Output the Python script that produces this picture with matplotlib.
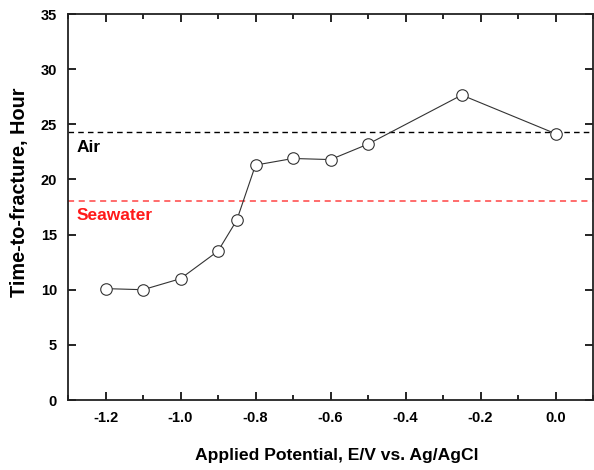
import matplotlib
matplotlib.use("Agg")
import matplotlib.pyplot as plt
from matplotlib.ticker import MultipleLocator

potential = [-1.2, -1.1, -1.0, -0.9, -0.85, -0.8, -0.7, -0.6, -0.5, -0.25, 0.0]
time_to_fracture = [10.1, 10.0, 11.0, 13.5, 16.3, 21.3, 21.9, 21.8, 23.2, 27.65, 24.15]
air_level = 24.3
seawater_level = 18.05
xtick_labels = ['-1.2', '-1.0', '-0.8', '-0.6', '-0.4', '-0.2', '0.0']

plt.rcParams['font.family'] = ['Liberation Sans', 'DejaVu Sans']
plt.rcParams['font.weight'] = 'bold'

fig = plt.figure(figsize=(5.94, 4.70), dpi=100)
ax = fig.add_axes([68/594, 70/470, (593-68)/594, (400-14)/470])

ax.axhline(air_level, color='black', linestyle=(0, (4, 3)), linewidth=1.0)
ax.axhline(seawater_level, color='#ff4444', linestyle=(0, (4, 3)), linewidth=1.1)
ax.plot(potential, time_to_fracture, color='#333333', linewidth=0.8, marker='o',
        markersize=8.3, markerfacecolor='white', markeredgecolor='#333333', markeredgewidth=0.8)

ax.text(-1.276, air_level - 0.7, 'Air', color='black', fontsize=12.5, fontweight='bold', va='top', ha='left')
ax.text(-1.276, seawater_level - 0.6, 'Seawater', color='#ff1a1a', fontsize=12.5, fontweight='bold', va='top', ha='left')

ax.set_xlim(-1.3, 0.1)
ax.set_ylim(0, 35)
ax.xaxis.set_minor_locator(MultipleLocator(0.1))
ax.yaxis.set_major_locator(MultipleLocator(5))
ax.set_xticks([-1.2, -1.0, -0.8, -0.6, -0.4, -0.2, 0.0])
ax.set_xticklabels(xtick_labels)

ax.tick_params(which='both', direction='in', top=True, right=True, labelsize=10.5, width=1.2)
ax.tick_params(which='major', length=6, pad=8)
ax.tick_params(which='minor', length=3.5)
ax.tick_params(axis='y', which='minor', left=False, right=False)
for lbl in ax.get_xticklabels() + ax.get_yticklabels():
    lbl.set_fontweight('bold')
for s in ax.spines.values():
    s.set_linewidth(1.3)
    s.set_color('#222222')

ax.set_xlabel('Applied Potential, E/V vs. Ag/AgCl', fontsize=12.6, fontweight='bold')
ax.xaxis.label.set_va('center')
ax.xaxis.set_label_coords(0.511, -0.143)
ax.set_ylabel('Time-to-fracture, Hour', fontsize=14.3, fontweight='bold')
ax.yaxis.label.set_va('center')
ax.yaxis.set_label_coords(-0.0933, 0.539)

fig.savefig('out.png', dpi=100)
